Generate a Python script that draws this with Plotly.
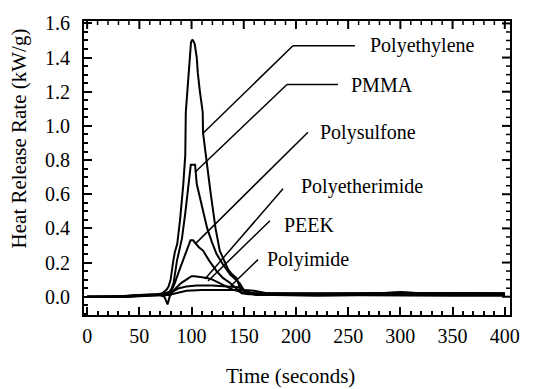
import plotly.graph_objects as go

# ---- data ----
PE_T = [0, 20, 40, 55, 65, 72, 76, 78, 80, 82.5, 84, 86.3, 89, 92, 94, 94.5, 96, 98, 99.5, 101,
        103, 105, 106, 108, 110.7, 111, 113.5, 116, 118, 120.5, 123, 127, 131, 135, 139, 143, 146,
        148, 152, 160, 180, 220, 260, 300, 350, 400]
PE_V = [0.0, 0.0, 0.005, 0.01, 0.01, 0.02, 0.04, 0.06, 0.10, 0.21, 0.26, 0.31, 0.45, 0.65, 0.83,
        1.08, 1.20, 1.38, 1.49, 1.505, 1.48, 1.40, 1.31, 1.20, 1.08, 0.96, 0.83, 0.72, 0.62, 0.51,
        0.40, 0.27, 0.21, 0.16, 0.13, 0.11, 0.06, 0.04, 0.03, 0.02, 0.01, 0.005, 0.008, 0.005, 0.005, 0.005]

PMMA_T = [0, 30, 50, 65, 75, 79, 81, 82.8, 86, 88, 90.8, 94, 97, 99.3, 101, 103.4, 105, 108, 111,
          115, 119.5, 124, 130, 137, 146, 152, 160, 200, 250, 300, 350, 400]
PMMA_V = [0, 0, 0.01, 0.01, 0.02, 0.03, 0.05, 0.08, 0.21, 0.26, 0.34, 0.49, 0.645, 0.773, 0.773,
          0.773, 0.66, 0.58, 0.49, 0.40, 0.32, 0.25, 0.19, 0.13, 0.08, 0.02, 0.015, 0.01, 0.012,
          0.01, 0.01, 0.01]

PSU_T = [0, 40, 60, 72, 78, 81, 84, 88, 92, 96, 99, 101.5, 104, 107, 111, 117, 124, 130, 137,
         143, 148, 155, 200, 260, 330, 400]
PSU_V = [0, 0.0, 0.01, 0.015, 0.02, 0.04, 0.08, 0.15, 0.22, 0.28, 0.33, 0.33, 0.31, 0.29, 0.27,
         0.21, 0.15, 0.11, 0.08, 0.05, 0.02, 0.015, 0.015, 0.018, 0.015, 0.015]

PEI_T = [0, 40, 60, 74, 80, 85, 90, 95, 100, 103, 110, 115, 120, 127, 134, 140, 146, 152, 170,
         220, 280, 340, 400]
PEI_V = [0, 0, 0.005, 0.01, 0.02, 0.05, 0.08, 0.10, 0.12, 0.12, 0.115, 0.11, 0.10, 0.08, 0.06,
         0.04, 0.03, 0.02, 0.02, 0.018, 0.022, 0.02, 0.02]

PEEK_T = [0, 30, 50, 62, 70, 74, 77, 79, 82, 88, 95, 105, 120, 135, 145, 150, 155, 162, 200,
          250, 300, 350, 400]
PEEK_V = [0, 0, 0.01, 0.015, 0.01, 0.0, -0.045, 0.0, 0.03, 0.05, 0.06, 0.065, 0.065, 0.06, 0.055,
          0.04, 0.02, 0.01, 0.01, 0.01, 0.025, 0.01, 0.01]

PI_T = [0, 45, 60, 70, 78, 85, 95, 110, 130, 150, 160, 167, 172, 200, 240, 280, 300, 320, 360, 400]
PI_V = [0, 0.005, 0.01, 0.01, 0.01, 0.02, 0.035, 0.04, 0.04, 0.04, 0.035, 0.025, 0.02, 0.02,
        0.022, 0.02, 0.028, 0.02, 0.022, 0.02]

NAMES = ["Polyethylene", "PMMA", "Polysulfone", "Polyetherimide", "PEEK", "Polyimide"]
SERIES_T = [PE_T, PMMA_T, PSU_T, PEI_T, PEEK_T, PI_T]
SERIES_V = [PE_V, PMMA_V, PSU_V, PEI_V, PEEK_V, PI_V]

X_TICKS = [0, 50, 100, 150, 200, 250, 300, 350, 400]
Y_TICKS = [0.0, 0.2, 0.4, 0.6, 0.8, 1.0, 1.2, 1.4, 1.6]
X_MINOR_STEP = 10
Y_MINOR_STEP = 0.05

# ---- label layout (positions of the callout leaders and texts, data coords) ----
LEADERS = [
    [(111, 0.957), (197.1, 1.469), (256.5, 1.469)],
    [(103.3, 0.729), (191.4, 1.242), (240.2, 1.242)],
    [(103.3, 0.308), (211.5, 0.963)],
    [(112.9, 0.104), (187.6, 0.632)],
    [(115.8, 0.092), (175.1, 0.445)],
    [(137.8, 0.064), (163.6, 0.217)],
]
LABEL_POS = [(268.9, 1.469), (250.7, 1.242), (221.1, 0.963), (202.9, 0.644),
             (186.6, 0.422), (170.3, 0.217)]

FONT = "Liberation Serif"
X_RANGE = [-3, 405]
Y_RANGE = [-0.107, 1.614]

fig = go.Figure()
for name, t, v in zip(NAMES, SERIES_T, SERIES_V):
    fig.add_trace(go.Scatter(x=t, y=v, mode="lines", name=name,
                             line=dict(color="black", width=2), showlegend=False))

shapes = []
for pts in LEADERS:
    for (x0, y0), (x1, y1) in zip(pts[:-1], pts[1:]):
        shapes.append(dict(type="line", xref="x", yref="y", x0=x0, y0=y0, x1=x1, y1=y1,
                           line=dict(color="black", width=1.5)))

# mirrored ticks (top and right), major and minor
def steps(lo, hi, step):
    n = int(round((hi - lo) / step))
    return [round(lo + i * step, 6) for i in range(n + 1)]

for xv in steps(0, 400, X_MINOR_STEP):
    major = any(abs(xv - m) < 1e-6 for m in X_TICKS)
    ln = 8 if major else 4
    shapes.append(dict(type="line", xref="x", yref="paper", ysizemode="pixel", yanchor=1,
                       x0=xv, x1=xv, y0=0, y1=-ln,
                       line=dict(color="black", width=2 if major else 1.5)))
for yv in steps(0, 1.6, Y_MINOR_STEP):
    major = any(abs(yv - m) < 1e-6 for m in Y_TICKS)
    ln = 8 if major else 4
    shapes.append(dict(type="line", xref="paper", yref="y", xsizemode="pixel", xanchor=1,
                       y0=yv, y1=yv, x0=0, x1=-ln,
                       line=dict(color="black", width=2 if major else 1.5)))

annotations = []
for name, (x, y) in zip(NAMES, LABEL_POS):
    annotations.append(dict(x=x, y=y, xref="x", yref="y", text=name, showarrow=False,
                            xanchor="left", yanchor="middle",
                            font=dict(family=FONT, size=20, color="black")))
annotations.append(dict(x=290, y=378, xref="paper", yref="paper", text="Time (seconds)",
                        showarrow=False, font=dict(family=FONT, size=21, color="black")))
annotations.append(dict(x=19, y=133, xref="paper", yref="paper", text="Heat Release Rate (kW/g)",
                        showarrow=False, textangle=-90,
                        font=dict(family=FONT, size=21, color="black")))

W, H = 534, 389
ML, MR, MT, MB = 84, 24, 12, 74
for a in annotations[-2:]:
    a["x"] = (a["x"] - ML) / (W - ML - MR)
    a["y"] = 1 - (a["y"] - MT) / (H - MT - MB)
    a["xanchor"] = "center"
    a["yanchor"] = "middle"

axis_common = dict(showline=True, linecolor="black", linewidth=2, mirror=True,
                   ticks="inside", ticklen=8, tickwidth=2, tickcolor="black",
                   showgrid=False, zeroline=False,
                   tickfont=dict(family=FONT, size=20, color="black"))

fig.update_layout(
    width=W, height=H,
    margin=dict(l=ML, r=MR, t=MT, b=MB),
    paper_bgcolor="white", plot_bgcolor="white",
    font=dict(family=FONT, size=20, color="black"),
    shapes=shapes, annotations=annotations,
    xaxis=dict(range=X_RANGE, tickvals=X_TICKS, ticktext=[str(v) for v in X_TICKS],
               minor=dict(dtick=X_MINOR_STEP, tick0=0, ticks="inside", ticklen=4,
                          tickwidth=1.5, tickcolor="black", showgrid=False),
               ticklabelstandoff=2, **axis_common),
    yaxis=dict(range=Y_RANGE, tickvals=Y_TICKS, ticktext=[f"{v:.1f}" for v in Y_TICKS],
               minor=dict(dtick=Y_MINOR_STEP, tick0=0, ticks="inside", ticklen=4,
                          tickwidth=1.5, tickcolor="black", showgrid=False),
               ticklabelstandoff=8, **axis_common),
)

fig.write_html("out.html")
